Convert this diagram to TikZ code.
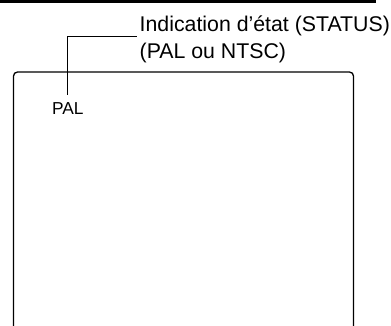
\documentclass[tikz,border=0pt]{standalone}
\usepackage{fontspec}
\setmainfont{Liberation Sans}
\usetikzlibrary{positioning}

\begin{document}
\begin{tikzpicture}[
  x=1pt,y=-1pt,
  label/.style={inner sep=0pt,anchor=base west,font=\fontsize{21.3}{26}\selectfont},
  screentext/.style={inner xsep=0pt,inner ysep=7pt,anchor=base,font=\fontsize{17.3}{20}\selectfont},
  leader/.style={draw,line width=0.9pt},
  screen/.style={draw,line width=1.3pt,rounded corners=4pt}
]
\useasboundingbox (0,0) rectangle (391,325);
% ---- top rule ----
\fill (0,0) rectangle (376,3);
% ---- screen ----
\draw[screen] (13.5,345) |- (353.5,72) -- (353.5,345);
\node[screentext] (pal) at (67.8,114) {PAL};
% ---- callout ----
\node[label] (status) at (139.5,31.7) {Indication d’état (STATUS)};
\node[label] (mode) at (139.5,58.3) {(PAL ou NTSC)};
\coordinate (tip) at (137,36.5);
\draw[leader] (pal.north) |- (tip);
\end{tikzpicture}
\end{document}
